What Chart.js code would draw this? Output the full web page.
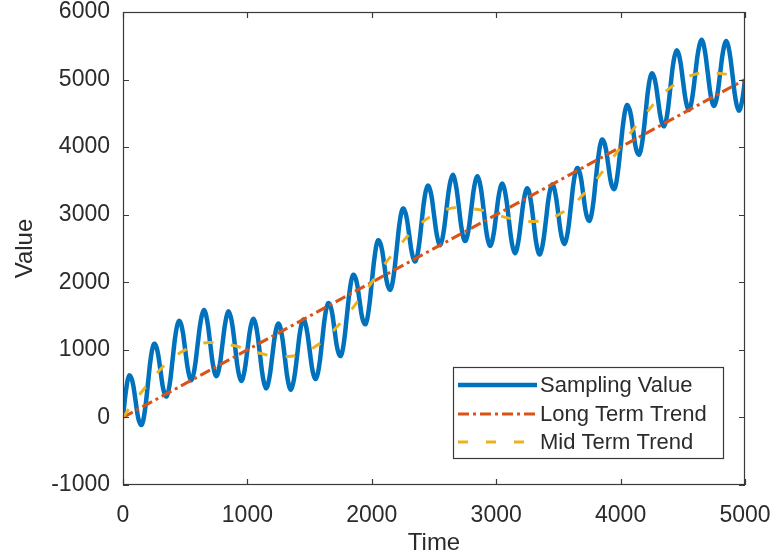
<!DOCTYPE html>
<html>
<head>
<meta charset="utf-8">
<script src="https://cdn.jsdelivr.net/npm/chart.js@4/dist/chart.umd.min.js"></script>
<style>
  body { margin: 0; background: #fff; }
  canvas { display: block; }
</style>
</head>
<body>
<canvas id="trendChart" width="772" height="558"></canvas>
<script>
// values
const timeStep = 25; // sampling interval of the blue curve
const samplingValue = [
  0, 410, 620, 540, 260, -30, -110, 90, 490, 900, 1090, 1000, 710, 410, 310, 490, 880, 1260, 1430, 1320,
  1000, 680, 550, 720, 1080, 1430, 1590, 1450, 1110, 760, 610, 750, 1090, 1430, 1570, 1410, 1060, 700, 540, 670,
  1000, 1330, 1460, 1300, 950, 590, 430, 570, 910, 1250, 1390, 1240, 900, 550, 410, 570, 920, 1290, 1450, 1320,
  1000, 680, 570, 740, 1120, 1510, 1690, 1600, 1300, 1000, 910, 1100, 1510, 1910, 2110, 2030, 1750, 1460, 1380, 1590,
  2000, 2410, 2620, 2540, 2260, 1970, 1890, 2090, 2490, 2900, 3090, 3000, 2710, 2410, 2310, 2490, 2880, 3260, 3430, 3320,
  3000, 2680, 2550, 2720, 3080, 3430, 3590, 3450, 3110, 2760, 2610, 2750, 3090, 3430, 3570, 3410, 3060, 2700, 2540, 2670,
  3000, 3330, 3460, 3300, 2950, 2590, 2430, 2570, 2910, 3250, 3390, 3240, 2900, 2550, 2410, 2570, 2920, 3290, 3450, 3320,
  3000, 2680, 2570, 2740, 3120, 3510, 3690, 3600, 3300, 3000, 2910, 3100, 3510, 3910, 4110, 4030, 3750, 3460, 3380, 3590,
  4000, 4410, 4620, 4540, 4260, 3970, 3890, 4090, 4490, 4900, 5090, 5000, 4710, 4410, 4310, 4490, 4880, 5260, 5430, 5320,
  5000, 4680, 4550, 4720, 5080, 5430, 5590, 5450, 5110, 4760, 4610, 4750, 5090, 5430, 5570, 5410, 5060, 4700, 4540, 4670,
  5000
];

const longTime = [0, 5000];
const longTermTrend = [0, 5000];

const midStep = 100;
const midTermTrend = [
  0, 260, 490, 710, 880, 1000, 1080, 1110, 1090, 1060,
  1000, 950, 910, 900, 920, 1000, 1120, 1300, 1510, 1750,
  2000, 2260, 2490, 2710, 2880, 3000, 3080, 3110, 3090, 3060,
  3000, 2950, 2910, 2900, 2920, 3000, 3120, 3300, 3510, 3750,
  4000, 4260, 4490, 4710, 4880, 5000, 5080, 5110, 5090, 5060,
  5000
];

const xTicks = [0, 1000, 2000, 3000, 4000, 5000];
const yTicks = [-1000, 0, 1000, 2000, 3000, 4000, 5000, 6000];

const fontFamily = "'Liberation Sans', Arial, sans-serif";
const inkColor = '#2b2b2b';

const toPoints = (xs, ys) => ys.map((v, i) => ({ x: xs(i), y: v }));

// box, inward ticks and the legend, MATLAB style
const frameAndLegend = {
  id: 'frameAndLegend',
  afterDatasetsDraw(chart) {
    const { ctx, chartArea: a, scales: { x, y } } = chart;
    ctx.save();
    ctx.strokeStyle = '#3a3a3a';
    ctx.lineWidth = 1.2;
    ctx.setLineDash([]);
    ctx.strokeRect(a.left + 0.5, a.top + 0.5, a.right - a.left - 1, a.bottom - a.top - 1);

    const tickLen = 6;
    ctx.beginPath();
    xTicks.forEach(v => {
      const px = Math.round(x.getPixelForValue(v)) + 0.5;
      ctx.moveTo(px, a.bottom); ctx.lineTo(px, a.bottom - tickLen);
      ctx.moveTo(px, a.top); ctx.lineTo(px, a.top + tickLen);
    });
    yTicks.forEach(v => {
      const py = Math.round(y.getPixelForValue(v)) + 0.5;
      ctx.moveTo(a.left, py); ctx.lineTo(a.left + tickLen, py);
      ctx.moveTo(a.right, py); ctx.lineTo(a.right - tickLen, py);
    });
    ctx.stroke();

    // legend
    const box = { left: 453, top: 367, width: 270, height: 91 };
    ctx.fillStyle = '#fff';
    ctx.fillRect(box.left, box.top, box.width, box.height);
    ctx.strokeStyle = '#3a3a3a';
    ctx.strokeRect(box.left + 0.5, box.top + 0.5, box.width, box.height);

    const rowY = [385, 414, 442];
    ctx.font = '22px ' + fontFamily;
    ctx.textBaseline = 'middle';
    chart.data.datasets.forEach((ds, i) => {
      ctx.strokeStyle = ds.borderColor;
      ctx.lineWidth = ds.borderWidth;
      ctx.setLineDash(ds.borderDash || []);
      ctx.beginPath();
      ctx.moveTo(box.left + 5, rowY[i]);
      ctx.lineTo(box.left + 84, rowY[i]);
      ctx.stroke();
      ctx.fillStyle = inkColor;
      ctx.fillText(ds.label, box.left + 87, rowY[i] + 1);
    });
    ctx.restore();
  }
};

new Chart(document.getElementById('trendChart'), {
  type: 'line',
  data: {
    datasets: [
      {
        label: 'Sampling Value',
        data: toPoints(i => i * timeStep, samplingValue),
        borderColor: '#0072BD',
        borderWidth: 4.5,
        tension: 0.4,
        pointRadius: 0,
        order: 3
      },
      {
        label: 'Long Term Trend',
        data: toPoints(i => longTime[i], longTermTrend),
        borderColor: '#D95319',
        borderWidth: 3,
        borderDash: [11, 4, 3, 4],
        pointRadius: 0,
        order: 2
      },
      {
        label: 'Mid Term Trend',
        data: toPoints(i => i * midStep, midTermTrend),
        borderColor: '#EDB120',
        borderWidth: 3,
        borderDash: [10, 18],
        tension: 0.4,
        pointRadius: 0,
        order: 1
      }
    ]
  },
  options: {
    responsive: false,
    animation: false,
    layout: { padding: { left: 0, right: 27, top: 12, bottom: 0 } },
    plugins: {
      legend: { display: false },
      tooltip: { enabled: false }
    },
    scales: {
      x: {
        type: 'linear',
        min: 0,
        max: 5000,
        afterFit: scale => {
          scale.height = 73;
          scale.paddingLeft = 0;
          scale.paddingRight = 0;
        },
        afterBuildTicks: scale => { scale.ticks = xTicks.map(v => ({ value: v })); },
        grid: { display: false, drawTicks: false },
        border: { display: false },
        ticks: {
          padding: 17,
          color: inkColor,
          maxRotation: 0,
          font: { family: fontFamily, size: 23 },
          callback: v => String(v)
        },
        title: { display: true, text: 'Time', color: inkColor, padding: { top: 0, bottom: 0 }, font: { family: fontFamily, size: 24 } }
      },
      y: {
        min: -1000,
        max: 6000,
        afterFit: scale => {
          scale.width = 123;
          scale.paddingTop = 0;
          scale.paddingBottom = 0;
        },
        afterBuildTicks: scale => { scale.ticks = yTicks.map(v => ({ value: v })); },
        grid: { display: false, drawTicks: false },
        border: { display: false },
        ticks: {
          padding: 13,
          color: inkColor,
          font: { family: fontFamily, size: 23 },
          callback: v => String(v)
        },
        title: { display: true, text: 'Value', color: inkColor, padding: { top: 11, bottom: 0 }, font: { family: fontFamily, size: 24 } }
      }
    }
  },
  plugins: [frameAndLegend]
});
</script>
</body>
</html>
